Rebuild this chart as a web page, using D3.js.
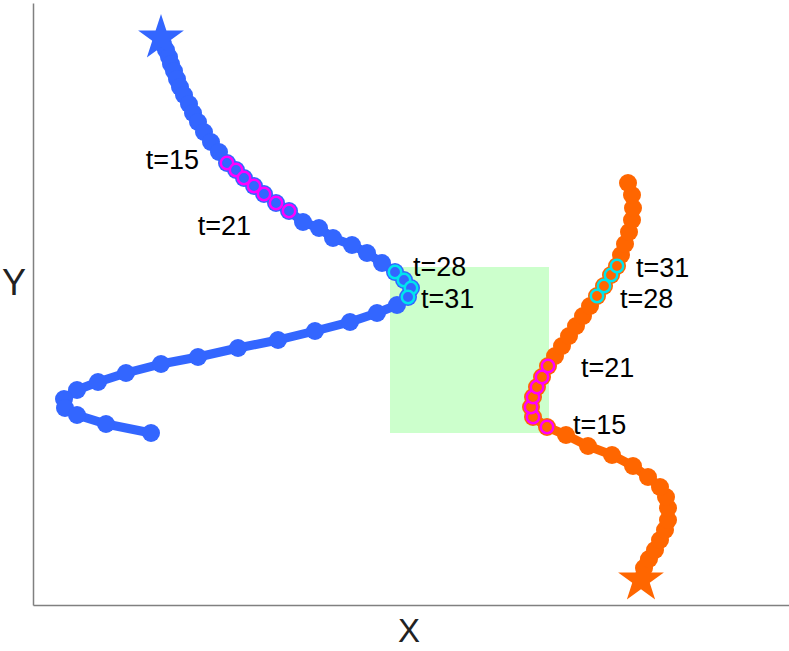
<!DOCTYPE html>
<meta charset="utf-8">
<title>Two trajectories</title>
<style type="text/css">
	body { margin: 0; background: #fff; }
	text { font-family: "Liberation Sans", Arial, Helvetica, sans-serif; }
</style>
<body>
<div id="chart"></div>
</body>
<script src="https://d3js.org/d3.v7.min.js"></script>
<script>

// trajectory 1 (blue), one point per time step t = 0..47
var blueX = [12.8, 13.0, 13.3, 13.6, 13.8, 14.1, 14.4, 14.7, 15.1, 15.6,
	16.0, 16.5, 17.1, 17.8, 18.6, 19.4, 20.3, 21.1, 22.1, 23.1,
	24.3, 25.6, 27.0, 28.6, 30.0, 31.9, 33.4, 34.9, 36.2, 37.1,
	37.8, 37.5, 36.4, 34.4, 31.7, 28.2, 24.5, 20.5, 16.5, 12.8,
	9.3, 6.5, 4.4, 3.1, 3.2, 4.4, 7.3, 11.8];
var blueY = [56.7, 56.1, 55.5, 54.8, 54.1, 53.4, 52.6, 51.8, 51.0, 50.1,
	49.2, 48.3, 47.3, 46.3, 45.3, 44.2, 43.5, 42.7, 41.9, 41.1,
	40.2, 39.4, 38.3, 37.7, 36.7, 36.0, 35.2, 34.2, 33.3, 32.5,
	31.7, 30.8, 30.0, 29.2, 28.3, 27.4, 26.5, 25.7, 24.8, 24.1,
	23.2, 22.3, 21.5, 20.6, 19.7, 19.0, 18.1, 17.2];

// trajectory 2 (orange), t = 0..38
var orangeX = [60.8, 61.1, 61.6, 62.2, 62.7, 63.2, 63.5, 63.5, 63.3, 62.7,
	61.5, 60.0, 57.9, 55.5, 53.3, 51.4, 50.0, 49.8, 50.0, 50.4,
	50.9, 51.5, 52.2, 52.9, 53.6, 54.3, 55.0, 55.7, 56.4, 57.1,
	57.8, 58.4, 58.8, 59.2, 59.6, 59.9, 60.0, 59.9, 59.5];
var orangeY = [2.5, 3.7, 4.6, 5.5, 6.5, 7.5, 8.5, 9.7, 10.8, 11.8,
	12.8, 13.9, 15.0, 15.9, 17.0, 17.8, 18.8, 19.8, 20.8, 21.8,
	22.8, 23.9, 24.9, 25.9, 26.9, 27.9, 28.9, 29.9, 30.9, 31.9,
	33.0, 33.9, 35.0, 36.1, 37.3, 38.5, 39.7, 41.0, 42.2];

// highlighted time windows
var window1 = [15, 21];
var window2 = [28, 31];
var labelTimes = [15, 21, 28, 31];

// shaded region
var regionX = [35.7, 51.6];
var regionY = [17.2, 33.8];

var width = 789, height = 651;
var margin = {top: 3, right: 0, bottom: 46, left: 33};

var xScale = d3.scaleLinear().domain([0, 75.6]).range([margin.left, width - margin.right]);
var yScale = d3.scaleLinear().domain([0, 60.2]).range([height - margin.bottom, margin.top]);

var svg = d3.select("#chart").append("svg")
		.attr("width", width)
		.attr("height", height);

function makeSeries(xs, ys) {
	var pts = [];
	for (var i = 0; i < xs.length; i++) {
		pts.push({t: i, x: xs[i], y: ys[i]});
	}
	return pts;
}

var blueData = makeSeries(blueX, blueY);
var orangeData = makeSeries(orangeX, orangeY);

// green box behind everything
svg.append("rect")
		.attr("x", xScale(regionX[0]))
		.attr("y", yScale(regionY[1]))
		.attr("width", xScale(regionX[1]) - xScale(regionX[0]))
		.attr("height", yScale(regionY[0]) - yScale(regionY[1]))
		.style("fill", "#ccffcc");

// axes: only the domain lines, no ticks
var xAxis = d3.axisBottom(xScale).ticks(0).tickSize(0).tickSizeOuter(0);
var yAxis = d3.axisLeft(yScale).ticks(0).tickSize(0).tickSizeOuter(0);

svg.append("g")
		.attr("transform", "translate(0," + yScale(0) + ")")
		.call(xAxis)
		.select(".domain").attr("stroke", "#808080").attr("stroke-width", 1.5);

svg.append("g")
		.attr("transform", "translate(" + xScale(0) + ",0)")
		.call(yAxis)
		.select(".domain").attr("stroke", "#808080").attr("stroke-width", 1.5);

svg.append("text")
		.attr("x", 409)
		.attr("y", 642)
		.style("text-anchor", "middle")
		.style("font-size", "33px")
		.style("fill", "#222")
		.text("X");

svg.append("text")
		.attr("x", 14)
		.attr("y", 295)
		.style("text-anchor", "middle")
		.style("font-size", "36px")
		.style("fill", "#222")
		.text("Y");

var line = d3.line()
		.x(function (d) { return xScale(d.x); })
		.y(function (d) { return yScale(d.y); });

function drawTrajectory(data, color, labelOffsets) {
	var g = svg.append("g");

	g.append("path")
			.datum(data)
			.attr("d", line)
			.attr("stroke", color)
			.style("stroke-width", 9)
			.style("stroke-linejoin", "round")
			.style("fill", "none");

	g.selectAll(".dot")
			.data(data)
			.enter().append("circle")
			.attr("class", "dot")
			.attr("r", 9)
			.attr("cx", function (d) { return xScale(d.x); })
			.attr("cy", function (d) { return yScale(d.y); })
			.style("fill", color);

	// star at t = 0
	g.append("path")
			.attr("d", d3.symbol().type(d3.symbolStar).size(650)())
			.attr("transform", "translate(" + xScale(data[0].x) + "," + yScale(data[0].y) + ")")
			.style("fill", color);

	// ring markers for the two time windows
	var win = [{range: window1, ring: "#ff00ff"}, {range: window2, ring: "#00e5ee"}];
	win.forEach(function (w) {
		var sub = data.filter(function (d) { return d.t >= w.range[0] && d.t <= w.range[1]; });
		g.selectAll(null)
				.data(sub)
				.enter().append("circle")
				.attr("r", 6.2)
				.attr("cx", function (d) { return xScale(d.x); })
				.attr("cy", function (d) { return yScale(d.y); })
				.style("fill", color)
				.style("stroke", w.ring)
				.style("stroke-width", 2.5);
	});

	// t= labels
	labelTimes.forEach(function (t, i) {
		var d = data[t];
		var o = labelOffsets[i];
		g.append("text")
				.attr("x", xScale(d.x) + o[0])
				.attr("y", yScale(d.y) + o[1])
				.style("text-anchor", o[2])
				.style("font-size", "27px")
				.style("fill", "#000")
				.text("t=" + t);
	});
}

// label offsets (px) and anchor for t=15, 21, 28, 31
drawTrajectory(blueData, "#3366ff", [[-28, 6, "end"], [-38, 24, "end"], [18, 4, "start"], [13, 11, "start"]]);
drawTrajectory(orangeData, "#ff6600", [[26, 7, "start"], [33, 11, "start"], [23, 12, "start"], [19, 11, "start"]]);

</script>
